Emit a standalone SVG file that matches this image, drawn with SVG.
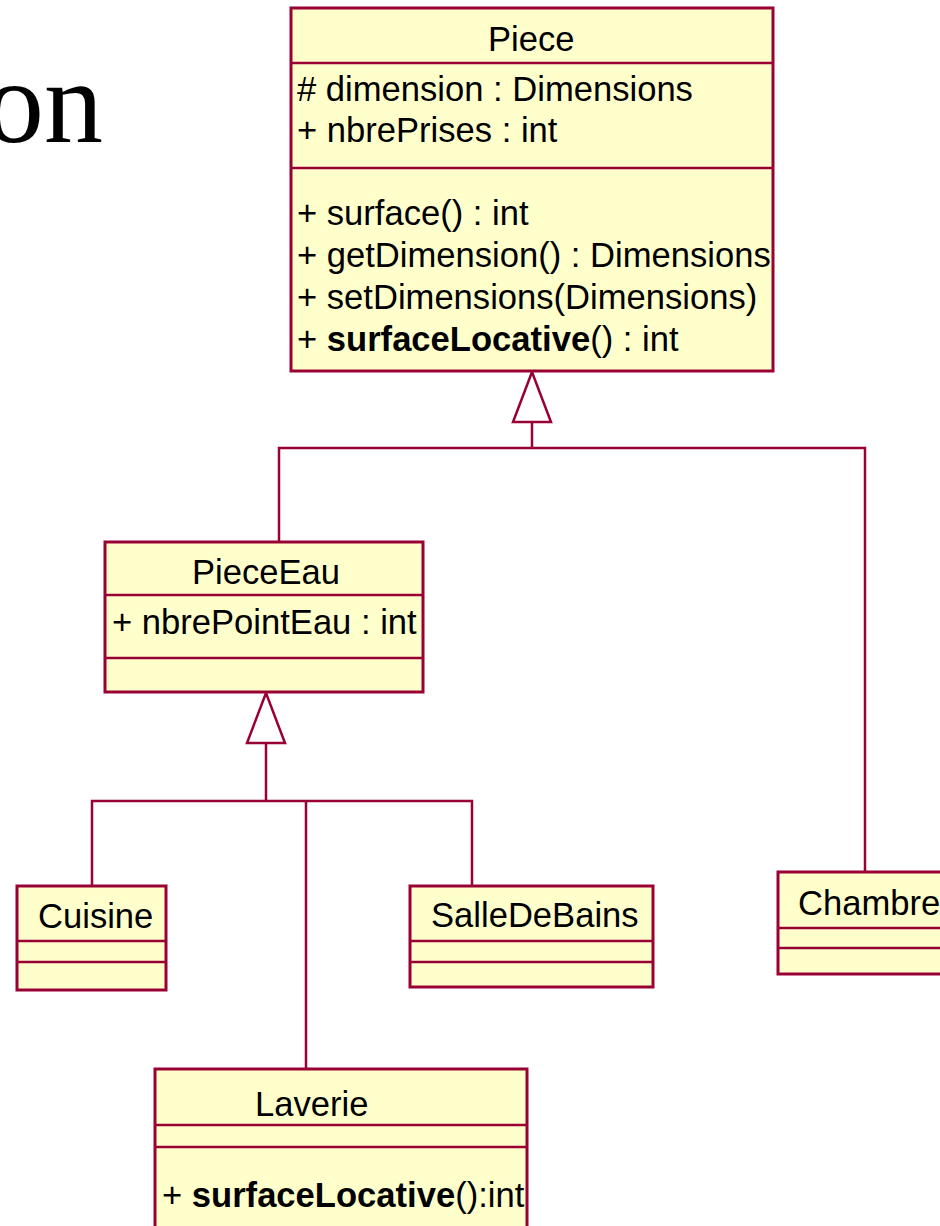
<svg xmlns="http://www.w3.org/2000/svg" width="940" height="1226" viewBox="0 0 940 1226">
<style>
.box{fill:#FFFFCC;stroke:#990033;stroke-width:3}
.sep{stroke:#990033;stroke-width:2.5;fill:none}
.t{font-family:"Liberation Sans",Arial,sans-serif;font-size:34.6px;fill:#000}
.b{font-weight:bold}
.c{stroke:#990033;stroke-width:2.5;fill:none}
.tri{fill:#fff;stroke:#990033;stroke-width:2.5}
.title{font-family:"Liberation Serif","Times New Roman",serif;font-size:118px;fill:#000}
</style>
<rect width="940" height="1226" fill="#fff"/>
<text class="title" x="103" y="142" text-anchor="end">on</text>
<g id="connectors">
<polyline class="c" points="532,422 532,448"/>
<polyline class="c" points="279,542 279,448 865,448 865,873"/>
<polygon class="tri" points="532,372 513,422 551,422"/>
<polyline class="c" points="266,743 266,801"/>
<polyline class="c" points="92,886 92,801 472,801 472,886"/>
<polyline class="c" points="306,801 306,1069"/>
<polygon class="tri" points="266,693 247,743 285,743"/>
</g>
<g id="Piece">
<rect class="box" x="291" y="8" width="482" height="363"/>
<line class="sep" x1="291" y1="63" x2="773" y2="63"/>
<line class="sep" x1="291" y1="168" x2="773" y2="168"/>
<text class="t" x="488" y="51">Piece</text>
<text class="t" x="297" y="101"># dimension : Dimensions</text>
<text class="t" x="297" y="142">+ nbrePrises : int</text>
<text class="t" x="297" y="225">+ surface() : int</text>
<text class="t" x="297" y="267">+ getDimension() : Dimensions</text>
<text class="t" x="297" y="309">+ setDimensions(Dimensions)</text>
<text class="t" x="297" y="351">+ <tspan class="b">surfaceLocative</tspan>() : int</text>
</g>
<g id="PieceEau">
<rect class="box" x="105" y="542" width="318" height="150"/>
<line class="sep" x1="105" y1="595" x2="423" y2="595"/>
<line class="sep" x1="105" y1="658" x2="423" y2="658"/>
<text class="t" x="192" y="584">PieceEau</text>
<text class="t" x="112" y="634">+ nbrePointEau : int</text>
</g>
<g id="Cuisine">
<rect class="box" x="17" y="886" width="149" height="104"/>
<line class="sep" x1="17" y1="941" x2="166" y2="941"/>
<line class="sep" x1="17" y1="962" x2="166" y2="962"/>
<text class="t" x="38" y="928">Cuisine</text>
</g>
<g id="SalleDeBains">
<rect class="box" x="410" y="886" width="243" height="101"/>
<line class="sep" x1="410" y1="941" x2="653" y2="941"/>
<line class="sep" x1="410" y1="962" x2="653" y2="962"/>
<text class="t" x="431" y="927">SalleDeBains</text>
</g>
<g id="Chambre">
<rect class="box" x="778" y="872" width="200" height="102"/>
<line class="sep" x1="778" y1="928" x2="978" y2="928"/>
<line class="sep" x1="778" y1="948" x2="978" y2="948"/>
<text class="t" x="798" y="915">Chambre</text>
</g>
<g id="Laverie">
<rect class="box" x="155" y="1069" width="372" height="180"/>
<line class="sep" x1="155" y1="1125" x2="527" y2="1125"/>
<line class="sep" x1="155" y1="1147" x2="527" y2="1147"/>
<text class="t" x="255" y="1116">Laverie</text>
<text class="t" x="162" y="1207">+ <tspan class="b">surfaceLocative</tspan>():int</text>
</g>
</svg>
